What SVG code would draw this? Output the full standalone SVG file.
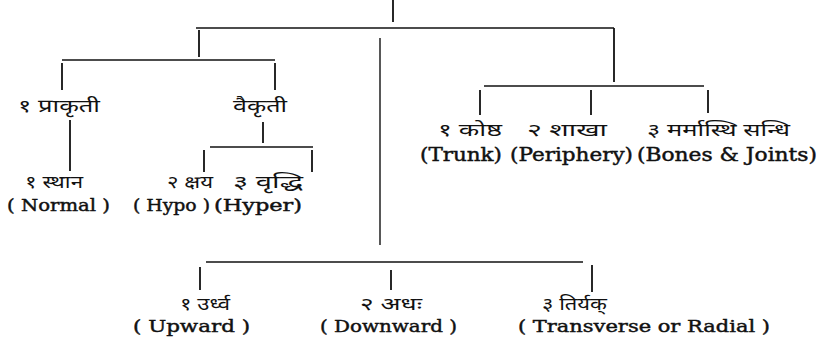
<svg xmlns="http://www.w3.org/2000/svg" width="824" height="350" viewBox="0 0 824 350">
<style>
.ln{stroke:#111;stroke-width:1.4;fill:none}
.tk{stroke:#111;stroke-width:1.8;fill:none}
.dv{font-family:"Noto Sans Devanagari","Noto Serif Devanagari","Lohit Devanagari","FreeSerif","Noto Sans",sans-serif;font-size:18px;fill:#111}
.dvs{font-size:17px}
.en{font-family:"DejaVu Serif","Liberation Serif",serif;font-size:17px;fill:#111;stroke:#111;stroke-width:0.45}
.en2{font-family:"DejaVu Serif","Liberation Serif",serif;font-size:18px;fill:#111;stroke:#111;stroke-width:0.45}
</style>
<rect width="824" height="350" fill="#fff"/>
<g id="connectors">
<line class="tk" x1="393" y1="0" x2="393" y2="22"/>
<line class="ln" x1="196" y1="28" x2="614" y2="28"/>
<line class="tk" x1="199" y1="30" x2="199" y2="57"/>
<line class="ln" x1="62" y1="60" x2="275" y2="60"/>
<line class="tk" x1="62" y1="63" x2="62" y2="90"/>
<line class="tk" x1="275" y1="63" x2="275" y2="90"/>
<line class="tk" x1="70" y1="120" x2="70" y2="171"/>
<line class="tk" x1="263" y1="122" x2="263" y2="143"/>
<line class="ln" x1="210" y1="147" x2="313" y2="147"/>
<line class="tk" x1="204" y1="150" x2="204" y2="172"/>
<line class="tk" x1="312" y1="150" x2="312" y2="172"/>
<line class="ln" x1="380" y1="38" x2="380" y2="245"/>
<line class="ln" x1="206" y1="262" x2="583" y2="262"/>
<line class="tk" x1="200" y1="267" x2="200" y2="290"/>
<line class="tk" x1="391" y1="270" x2="391" y2="290"/>
<line class="tk" x1="592" y1="265" x2="592" y2="292"/>
<line class="tk" x1="614" y1="28" x2="614" y2="82"/>
<line class="ln" x1="484" y1="86" x2="704" y2="86"/>
<line class="tk" x1="480" y1="90" x2="480" y2="115"/>
<line class="tk" x1="591" y1="90" x2="591" y2="115"/>
<line class="tk" x1="708" y1="90" x2="708" y2="113"/>
</g>
<g id="n-prakruti"><text class="dv" x="18" y="112" textLength="82" lengthAdjust="spacingAndGlyphs">१ प्राकृती</text></g>
<g id="n-vaikruti"><text class="dv" x="233" y="112" textLength="54" lengthAdjust="spacingAndGlyphs">वैकृती</text></g>
<g id="n-sthana"><text class="dv dvs" x="25" y="188" textLength="58" lengthAdjust="spacingAndGlyphs">१ स्थान</text><text class="en" x="7" y="211" textLength="103" lengthAdjust="spacingAndGlyphs">( Normal )</text></g>
<g id="n-kshaya"><text class="dv dvs" x="167" y="188" textLength="46" lengthAdjust="spacingAndGlyphs">२ क्षय</text><text class="en" x="133" y="211" textLength="77" lengthAdjust="spacingAndGlyphs">( Hypo )</text></g>
<g id="n-vruddhi"><text class="dv dvs" x="233" y="188" textLength="70" lengthAdjust="spacingAndGlyphs">३ वृद्धि</text><text class="en" x="214" y="211" textLength="88" lengthAdjust="spacingAndGlyphs">(Hyper)</text></g>
<g id="n-koshtha"><text class="dv" x="438" y="136" textLength="64" lengthAdjust="spacingAndGlyphs">१ कोष्ठ</text><text class="en2" x="420" y="161" textLength="82" lengthAdjust="spacingAndGlyphs">(Trunk)</text></g>
<g id="n-shakha"><text class="dv" x="527" y="136" textLength="80" lengthAdjust="spacingAndGlyphs">२ शाखा</text><text class="en2" x="510" y="161" textLength="123" lengthAdjust="spacingAndGlyphs">(Periphery)</text></g>
<g id="n-marma"><text class="dv" x="647" y="136" textLength="143" lengthAdjust="spacingAndGlyphs">३ मर्मास्थि सन्धि</text><text class="en2" x="637" y="161" textLength="180" lengthAdjust="spacingAndGlyphs">(Bones &amp; Joints)</text></g>
<g id="n-urdhva"><text class="dv dvs" x="180" y="310" textLength="50" lengthAdjust="spacingAndGlyphs">१ उर्ध्व</text><text class="en" x="133" y="332" textLength="117" lengthAdjust="spacingAndGlyphs">( Upward )</text></g>
<g id="n-adhah"><text class="dv dvs" x="360" y="310" textLength="62" lengthAdjust="spacingAndGlyphs">२ अधः</text><text class="en" x="320" y="332" textLength="137" lengthAdjust="spacingAndGlyphs">( Downward )</text></g>
<g id="n-tiryak"><text class="dv dvs" x="542" y="310" textLength="65" lengthAdjust="spacingAndGlyphs">३ तिर्यक्</text><text class="en" x="518" y="332" textLength="252" lengthAdjust="spacingAndGlyphs">( Transverse or Radial )</text></g>
</svg>
